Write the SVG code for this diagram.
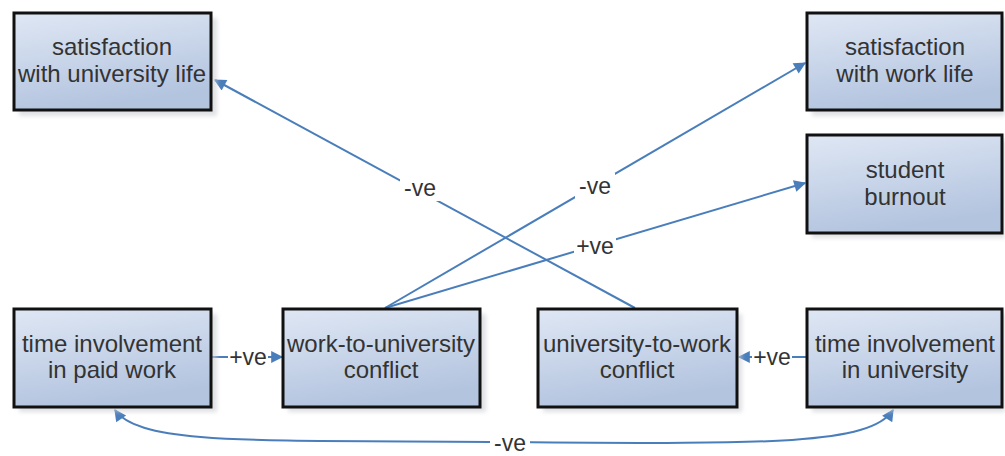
<svg xmlns="http://www.w3.org/2000/svg" width="1005" height="456" viewBox="0 0 1005 456">
  <defs>
    <linearGradient id="boxFill" x1="0" y1="0" x2="0.3" y2="1">
      <stop offset="0" stop-color="#dfe7f4"/>
      <stop offset="1" stop-color="#b3c4df"/>
    </linearGradient>
    <filter id="shadow" x="-10%" y="-10%" width="130%" height="130%">
      <feGaussianBlur stdDeviation="2"/>
    </filter>
    <marker id="arrowL" viewBox="0 0 10 10" refX="9" refY="5" markerWidth="15" markerHeight="12" orient="auto-start-reverse" markerUnits="userSpaceOnUse">
      <path d="M0,0 L10,5 L0,10 z" fill="#4a7ebb"/>
    </marker>
  </defs>
  <style>
    .box { fill: url(#boxFill); stroke: #111; stroke-width: 3; }
    .shd { fill: #c9ccd2; opacity: 0.6; filter: url(#shadow); }
    .lbl { font-family: "Liberation Sans", Arial, sans-serif; font-size: 24px; fill: #333; text-anchor: middle; }
    .edge { fill: none; stroke: #4a7ebb; stroke-width: 2; }
    .elbl { font-family: "Liberation Sans", Arial, sans-serif; font-size: 23px; fill: #333; text-anchor: middle; }
    .lblbg { fill: #fff; }
  </style>

  <rect width="1005" height="456" fill="#fff"/>

  <!-- connectors -->
  <g id="connectors">
    <line class="edge" x1="635" y1="308" x2="215" y2="80" marker-end="url(#arrowL)"/>
    <line class="edge" x1="385" y1="308" x2="805" y2="63" marker-end="url(#arrowL)"/>
    <line class="edge" x1="385" y1="308" x2="805" y2="183" marker-end="url(#arrowL)"/>
    <line class="edge" x1="212" y1="357" x2="282" y2="357" marker-end="url(#arrowL)"/>
    <line class="edge" x1="807" y1="357" x2="739" y2="357" marker-end="url(#arrowL)"/>
    <path class="edge" d="M115,410 C140,446 260,440 510,442 C760,444 870,446 893,410" marker-start="url(#arrowL)" marker-end="url(#arrowL)"/>

    <rect class="lblbg" x="400" y="175" width="40" height="26"/>
    <text class="elbl" x="420" y="196">-ve</text>
    <rect class="lblbg" x="575" y="173" width="40" height="26"/>
    <text class="elbl" x="595" y="194">-ve</text>
    <rect class="lblbg" x="574" y="233" width="42" height="26"/>
    <text class="elbl" x="595" y="254">+ve</text>
    <rect class="lblbg" x="228" y="344" width="40" height="26"/>
    <text class="elbl" x="248" y="365">+ve</text>
    <rect class="lblbg" x="752" y="344" width="40" height="26"/>
    <text class="elbl" x="772" y="365">+ve</text>
    <rect class="lblbg" x="490" y="431" width="40" height="25"/>
    <text class="elbl" x="510" y="451">-ve</text>
  </g>

  <g id="sat-university">
    <rect class="shd" x="19" y="18" width="198" height="98"/>
    <rect class="box" x="14" y="13" width="197" height="97"/>
    <text class="lbl" x="112" y="55">satisfaction</text>
    <text class="lbl" x="112" y="82">with university life</text>
  </g>

  <g id="sat-work">
    <rect class="shd" x="812" y="18" width="193" height="98"/>
    <rect class="box" x="807" y="13" width="195" height="97"/>
    <text class="lbl" x="905" y="55">satisfaction</text>
    <text class="lbl" x="905" y="82">with work life</text>
  </g>

  <g id="burnout">
    <rect class="shd" x="812" y="140" width="193" height="98"/>
    <rect class="box" x="807" y="135" width="195" height="98"/>
    <text class="lbl" x="905" y="178">student</text>
    <text class="lbl" x="905" y="205">burnout</text>
  </g>

  <g id="time-paid-work">
    <rect class="shd" x="19" y="314" width="198" height="98"/>
    <rect class="box" x="14" y="309" width="197" height="98"/>
    <text class="lbl" x="112" y="352">time involvement</text>
    <text class="lbl" x="112" y="378">in paid work</text>
  </g>

  <g id="work-to-univ">
    <rect class="shd" x="288" y="314" width="198" height="98"/>
    <rect class="box" x="283" y="309" width="197" height="98"/>
    <text class="lbl" x="381" y="352">work-to-university</text>
    <text class="lbl" x="381" y="378">conflict</text>
  </g>

  <g id="univ-to-work">
    <rect class="shd" x="543" y="314" width="199" height="98"/>
    <rect class="box" x="538" y="309" width="199" height="98"/>
    <text class="lbl" x="637" y="352">university-to-work</text>
    <text class="lbl" x="637" y="378">conflict</text>
  </g>

  <g id="time-university">
    <rect class="shd" x="812" y="314" width="193" height="98"/>
    <rect class="box" x="807" y="309" width="195" height="98"/>
    <text class="lbl" x="905" y="352">time involvement</text>
    <text class="lbl" x="905" y="378">in university</text>
  </g>
</svg>
